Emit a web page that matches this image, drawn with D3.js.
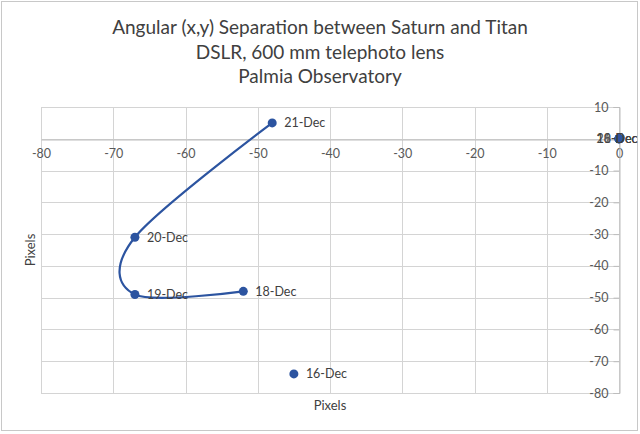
<!DOCTYPE html>
<html>
<head>
<meta charset="utf-8">
<script src="https://cdn.jsdelivr.net/npm/d3@7"></script>
<style>
  body { margin: 0; background: #fff; }
  svg { font-family: Lato, "Open Sans", sans-serif; }
</style>
</head>
<body>
<svg id="chart" width="640" height="434"></svg>
<script>
// Titan position relative to Saturn (pixels)
const titanDates = ["16-Dec", "18-Dec", "19-Dec", "20-Dec", "21-Dec"];
const titanDay = [16, 18, 19, 20, 21];
const titanX = [-45, -52, -67, -67, -48];
const titanY = [-74, -48, -49, -31, 5];

// Saturn stays at the origin
const saturnDates = ["16-Dec", "18-Dec", "19-Dec", "20-Dec", "21-Dec"];
const saturnX = [0, 0, 0, 0, 0];
const saturnY = [0, 0, 0, 0, 0];

const xTicks = [-80, -70, -60, -50, -40, -30, -20, -10, 0];
const yTicks = [10, 0, -10, -20, -30, -40, -50, -60, -70, -80];

const titleLines = [
  "Angular (x,y) Separation between Saturn and Titan",
  "DSLR, 600 mm telephoto lens",
  "Palmia Observatory"
];

const svg = d3.select("#chart");
const blue = "#2c54a0";
const textCol = "#404040";
const fmt = d => String(d);   // plain hyphen minus like the original

// chart border
svg.append("rect")
  .attr("x", 1.5).attr("y", 1.5)
  .attr("width", 636).attr("height", 429)
  .attr("fill", "#fff").attr("stroke", "#c8c8c8");

// title
svg.append("g").selectAll("text")
  .data(titleLines)
  .join("text")
  .attr("x", 320)
  .attr("y", (d, i) => 34 + i * 24.5)
  .attr("text-anchor", "middle")
  .attr("font-size", 19)
  .attr("fill", textCol)
  .text(d => d);

const x = d3.scaleLinear().domain([-80, 0]).range([41, 619]);
const y = d3.scaleLinear().domain([-80, 10]).range([393, 107]);

// grid
const grid = svg.append("g").attr("stroke", "#d4d4d4").attr("stroke-width", 1);
grid.selectAll(".vg").data(xTicks).join("line")
  .attr("x1", d => Math.round(x(d)) + 0.5).attr("x2", d => Math.round(x(d)) + 0.5)
  .attr("y1", y(10)).attr("y2", y(-80));
grid.selectAll(".hg").data(yTicks).join("line")
  .attr("y1", d => Math.round(y(d)) + 0.5).attr("y2", d => Math.round(y(d)) + 0.5)
  .attr("x1", x(-80)).attr("x2", x(0));

// x axis through y = 0
const xAxis = svg.append("g")
  .attr("transform", `translate(0,${Math.round(y(0)) + 0.5})`)
  .call(d3.axisBottom(x).tickValues(xTicks).tickFormat(fmt).tickSize(0).tickPadding(10));
xAxis.select(".domain").attr("stroke", "#bdbdbd");
xAxis.selectAll("text").attr("font-size", 12.5).attr("fill", "#595959")
  .attr("font-family", "Lato, sans-serif");

// y axis through x = 0
const yAxis = svg.append("g")
  .attr("transform", `translate(${Math.round(x(0)) + 0.5},0)`)
  .call(d3.axisLeft(y).tickValues(yTicks.filter(d => d !== 0)).tickFormat(fmt).tickSize(6).tickPadding(5));
yAxis.select(".domain").attr("stroke", "#bdbdbd");
yAxis.selectAll(".tick line").attr("stroke", "#bdbdbd");
yAxis.selectAll("text").attr("font-size", 12.5).attr("fill", "#595959")
  .attr("font-family", "Lato, sans-serif");

// axis titles
svg.append("text")
  .attr("x", 330).attr("y", 410)
  .attr("text-anchor", "middle")
  .attr("font-size", 13).attr("fill", textCol)
  .text("Pixels");
svg.append("text")
  .attr("transform", "translate(35,250) rotate(-90)")
  .attr("text-anchor", "middle")
  .attr("font-size", 13).attr("fill", textCol)
  .text("Pixels");

// Titan series
const titan = titanDates.map((d, i) => ({ date: d, day: titanDay[i], x: titanX[i], y: titanY[i] }));

// split into runs of consecutive days
const runs = [];
titan.forEach((d, i) => {
  if (i === 0 || d.day - titan[i - 1].day > 1) runs.push([]);
  runs[runs.length - 1].push(d);
});

const line = d3.line()
  .x(d => x(d.x))
  .y(d => y(d.y))
  .curve(d3.curveCardinal.tension(0));

svg.append("g").selectAll("path")
  .data(runs.filter(r => r.length > 1))
  .join("path")
  .attr("d", line)
  .attr("fill", "none")
  .attr("stroke", blue)
  .attr("stroke-width", 2.2);

svg.append("g").selectAll("circle")
  .data(titan)
  .join("circle")
  .attr("cx", d => x(d.x))
  .attr("cy", d => y(d.y))
  .attr("r", 4.5)
  .attr("fill", blue);

svg.append("g").selectAll("text")
  .data(titan)
  .join("text")
  .attr("x", d => x(d.x) + 12)
  .attr("y", d => y(d.y) + 4.5)
  .attr("font-size", 12.5)
  .attr("fill", textCol)
  .text(d => d.date);

// Saturn series (all at origin, labels centred on point)
const saturn = saturnDates.map((d, i) => ({ date: d, x: saturnX[i], y: saturnY[i] }));

svg.append("g").selectAll("circle")
  .data(saturn)
  .join("circle")
  .attr("cx", d => x(d.x))
  .attr("cy", d => y(d.y))
  .attr("r", 4.5)
  .attr("fill", blue);

svg.append("g").selectAll("text")
  .data(saturn)
  .join("text")
  .attr("x", d => x(d.x) - 2)
  .attr("y", d => y(d.y) + 4.5)
  .attr("text-anchor", "middle")
  .attr("font-size", 12.5)
  .attr("fill", textCol)
  .attr("fill-opacity", 0.6)
  .text(d => d.date);
</script>
</body>
</html>
